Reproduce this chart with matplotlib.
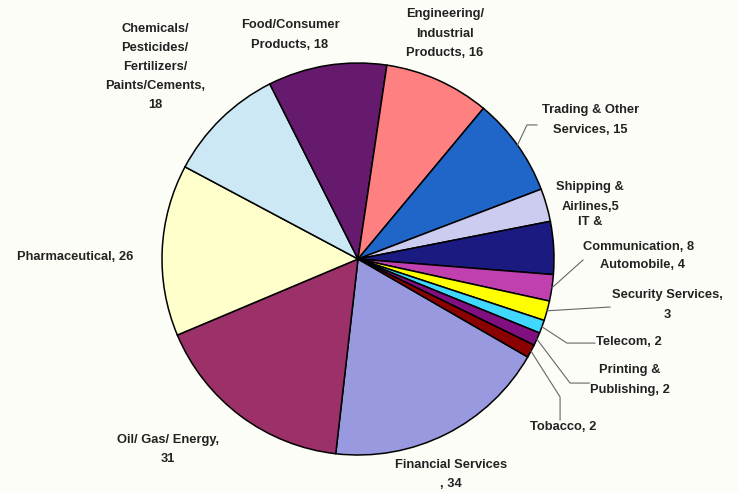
import numpy as np
import matplotlib.pyplot as plt

# Data: number of companies by sector
sectors = [
    "Financial Services", "Oil/ Gas/ Energy", "Pharmaceutical",
    "Chemicals/ Pesticides/ Fertilizers/ Paints/Cements", "Food/Consumer Products",
    "Engineering/ Industrial Products", "Trading & Other Services",
    "Shipping & Airlines", "IT & Communication", "Automobile",
    "Security Services", "Telecom", "Printing & Publishing", "Tobacco",
]
counts = [34, 31, 26, 18, 18, 16, 15, 5, 8, 4, 3, 2, 2, 2]

labels = [
    "Financial Services\n, 34", "Oil/ Gas/ Energy,\n31", "Pharmaceutical, 26",
    "Chemicals/\nPesticides/\nFertilizers/\nPaints/Cements,\n18", "Food/Consumer\nProducts, 18",
    "Engineering/\nIndustrial\nProducts, 16", "Trading & Other\nServices, 15",
    "Shipping &\nAirlines,5", "IT &", "Automobile, 4",
    "Security Services,\n3", "Telecom, 2", "Printing &\nPublishing, 2", "Tobacco, 2",
]

colors = ["#9999e0", "#9c3068", "#ffffcc", "#cce8f4", "#661a6e", "#ff8080",
          "#1f66c8", "#ccccf0", "#1a1a80", "#c040b0", "#ffff00", "#40d8ff",
          "#801080", "#8b0000"]

# label placement (in units of pie radius)
label_pos = [(0.474, -1.10), (-0.969, -0.97), (-1.444, 0.01), (-1.036, 0.98),
             (-0.347, 1.143), (0.444, 1.15), (1.184, 0.709), (1.184, 0.316),
             (1.184, 0.189), (1.449, -0.031), (1.577, -0.235), (1.383, -0.423),
             (1.388, -0.617), (1.046, -0.857)]

# leader lines: sector index -> points after the wedge edge
leaders = {
    6: [(0.862, 0.684), (0.913, 0.684)],
    9: [(1.148, -0.005)],
    10: [(1.286, -0.245)],
    11: [(1.066, -0.429), (1.209, -0.429)],
    12: [(1.082, -0.633), (1.18, -0.633)],
    13: [(1.031, -0.704), (1.031, -0.821)],
}

fig = plt.figure(figsize=(7.38, 4.92), dpi=100)
fig.patch.set_facecolor("#fdfdf8")
ax = fig.add_axes([162 / 738, 37 / 492, 392 / 738, 392 / 492])
ax.set_facecolor("none")

wedges, _ = ax.pie(counts, colors=colors, startangle=-30, counterclock=False,
                   wedgeprops=dict(edgecolor="black", linewidth=1.1))
ax.set_xlim(-1, 1)
ax.set_ylim(-1, 1)
ax.set_aspect("equal")
ax.axis("off")

font = dict(family="Liberation Sans", fontweight="bold", fontsize=9.3,
            color="#222222", ha="center", va="center", linespacing=1.8)

for i, lab in enumerate(labels):
    x, y = label_pos[i]
    ax.text(x, y, lab, clip_on=False, **font)
ax.text(1.429, 0.061, "Communication, 8", clip_on=False, **font)

for i, pts in leaders.items():
    w = wedges[i]
    mid = np.deg2rad((w.theta1 + w.theta2) / 2)
    xs = [np.cos(mid)] + [p[0] for p in pts]
    ys = [np.sin(mid)] + [p[1] for p in pts]
    ax.plot(xs, ys, color="#666666", linewidth=0.8, clip_on=False)

fig.savefig("out.png", dpi=100, facecolor=fig.get_facecolor())
